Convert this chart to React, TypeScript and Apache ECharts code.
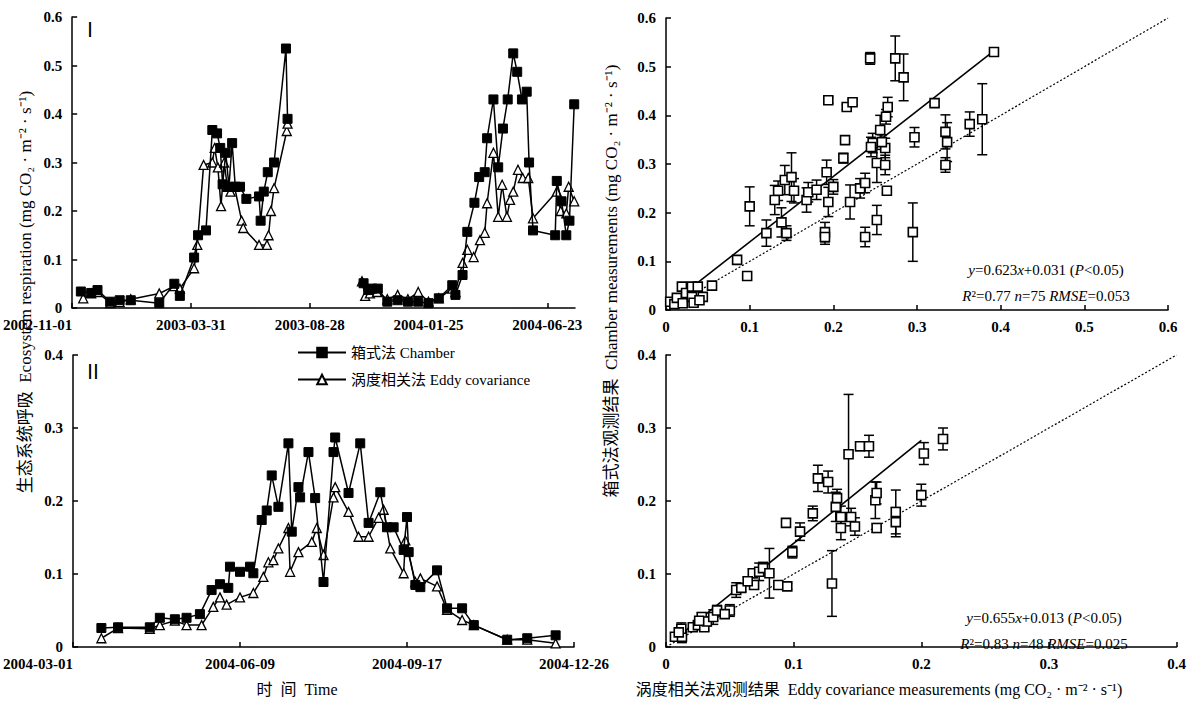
import React, { useEffect, useRef } from "react";
import * as echarts from "echarts";

const FONT = "'Times New Roman', 'Liberation Serif', 'Noto Sans CJK SC', serif";

// Panel I: days since 2002-11-01, [day, value]
const tlChamber1 = [[11,0.034],[24,0.031],[32,0.037],[48,0.013],[60,0.016],[74,0.016],[110,0.010],[129,0.050],[136,0.025],[154,0.104],[159,0.150],[169,0.160],[177,0.367],[183,0.360],[187,0.330],[190,0.255],[194,0.320],[198,0.250],[202,0.340],[206,0.250],[212,0.250],[220,0.225],[236,0.230],[238,0.180],[242,0.240],[247,0.280],[255,0.300],[270,0.535],[272,0.390]];
const tlEddy1 = [[14,0.020],[24,0.030],[32,0.033],[48,0.010],[60,0.012],[74,0.018],[110,0.030],[129,0.045],[136,0.040],[154,0.082],[158,0.130],[166,0.295],[177,0.300],[180,0.330],[184,0.290],[188,0.210],[192,0.300],[196,0.250],[200,0.240],[205,0.250],[214,0.180],[216,0.165],[236,0.130],[246,0.130],[248,0.150],[251,0.200],[255,0.247],[271,0.365],[272,0.380]];
const tlChamber2 = [[368,0.051],[374,0.037],[379,0.040],[386,0.040],[398,0.013],[411,0.016],[424,0.013],[437,0.013],[450,0.010],[463,0.020],[480,0.047],[484,0.027],[493,0.068],[499,0.157],[508,0.217],[514,0.270],[521,0.280],[524,0.350],[532,0.430],[538,0.290],[544,0.370],[550,0.430],[557,0.525],[562,0.487],[568,0.430],[574,0.446],[577,0.300],[582,0.160],[610,0.150],[612,0.262],[618,0.220],[624,0.150],[628,0.180],[634,0.420]];
const tlEddy2 = [[366,0.055],[370,0.025],[376,0.030],[385,0.033],[398,0.018],[411,0.027],[424,0.018],[437,0.033],[450,0.013],[463,0.020],[480,0.040],[484,0.033],[493,0.093],[499,0.120],[507,0.105],[515,0.140],[521,0.155],[524,0.216],[532,0.320],[538,0.188],[543,0.254],[549,0.188],[553,0.223],[557,0.240],[563,0.285],[569,0.268],[576,0.268],[582,0.185],[612,0.240],[617,0.200],[624,0.195],[627,0.250],[634,0.220]];

// Panel II: days since 2004-03-01
const blChamber = [[17,0.026],[27,0.027],[46,0.027],[52,0.040],[61,0.038],[68,0.040],[76,0.045],[83,0.078],[88,0.086],[93,0.081],[94,0.110],[100,0.103],[106,0.110],[108,0.101],[113,0.174],[116,0.187],[119,0.235],[123,0.192],[129,0.279],[131,0.158],[135,0.219],[136,0.205],[141,0.267],[145,0.204],[150,0.089],[156,0.267],[157,0.287],[165,0.211],[172,0.279],[177,0.170],[184,0.212],[188,0.164],[192,0.164],[198,0.133],[200,0.178],[201,0.130],[205,0.085],[208,0.082],[218,0.105],[224,0.053],[233,0.053],[240,0.030],[260,0.010],[272,0.012],[289,0.016]];
const blEddy = [[17,0.012],[27,0.026],[46,0.025],[52,0.030],[61,0.036],[68,0.030],[77,0.030],[84,0.055],[88,0.068],[92,0.058],[100,0.068],[108,0.074],[114,0.096],[117,0.116],[120,0.119],[123,0.135],[129,0.163],[130,0.103],[135,0.130],[143,0.144],[146,0.163],[150,0.126],[156,0.205],[157,0.219],[165,0.185],[171,0.151],[177,0.151],[183,0.177],[186,0.188],[190,0.135],[198,0.101],[199,0.146],[205,0.089],[208,0.094],[218,0.083],[224,0.051],[233,0.037],[240,0.030],[260,0.010],[272,0.010],[289,0.005]];

// Scatter, 2002-2004: eddy (x), chamber (y), error half-range
const trX = [0.005,0.010,0.013,0.019,0.020,0.024,0.031,0.031,0.033,0.038,0.044,0.040,0.055,0.085,0.097,0.100,0.120,0.130,0.134,0.138,0.144,0.142,0.150,0.153,0.168,0.170,0.190,0.190,0.192,0.194,0.194,0.200,0.212,0.214,0.216,0.220,0.223,0.232,0.238,0.238,0.244,0.247,0.252,0.252,0.256,0.262,0.262,0.263,0.264,0.265,0.274,0.284,0.295,0.297,0.321,0.334,0.336,0.334,0.363,0.378,0.392,0.245,0.258,0.180];
const trY = [0.017,0.012,0.025,0.048,0.014,0.035,0.048,0.027,0.015,0.048,0.027,0.020,0.050,0.103,0.070,0.213,0.158,0.226,0.245,0.180,0.158,0.267,0.273,0.245,0.226,0.242,0.160,0.150,0.283,0.222,0.431,0.253,0.312,0.349,0.417,0.222,0.427,0.250,0.261,0.150,0.517,0.343,0.302,0.185,0.370,0.333,0.298,0.397,0.245,0.417,0.517,0.478,0.160,0.355,0.425,0.366,0.345,0.298,0.382,0.392,0.530,0.335,0.345,0.247];
const trErr = [0,0,0.005,0.006,0,0,0,0,0,0,0,0,0,0,0,0.040,0.027,0.030,0.020,0.030,0.015,0.030,0.050,0.025,0.025,0.020,0.020,0.015,0.025,0.030,0.006,0.015,0.010,0.008,0.005,0.035,0.006,0.020,0.020,0.020,0.012,0.020,0.040,0.030,0.030,0.020,0.020,0.015,0.005,0.020,0.046,0.048,0.060,0.020,0.005,0.035,0.040,0.015,0.025,0.073,0.004,0.020,0.015,0.020];
const trFit = [[0.005,0.012],[0.39,0.53]];
const trOne = [[0,0],[0.6,0.6]];

// Scatter, 2004
const brX = [0.007,0.0125,0.012,0.021,0.025,0.028,0.030,0.032,0.037,0.040,0.050,0.055,0.059,0.068,0.069,0.073,0.076,0.081,0.088,0.095,0.094,0.099,0.105,0.115,0.119,0.127,0.130,0.133,0.134,0.137,0.137,0.143,0.145,0.148,0.152,0.159,0.164,0.165,0.165,0.180,0.180,0.200,0.202,0.217,0.010,0.046,0.064,0.026];
const brY = [0.014,0.014,0.025,0.027,0.030,0.041,0.027,0.035,0.041,0.050,0.050,0.078,0.081,0.101,0.085,0.103,0.108,0.101,0.085,0.083,0.170,0.130,0.158,0.183,0.231,0.226,0.087,0.192,0.204,0.178,0.163,0.264,0.178,0.165,0.275,0.275,0.201,0.211,0.163,0.185,0.171,0.208,0.265,0.285,0.020,0.045,0.090,0.036];
const brErr = [0.005,0.008,0.008,0,0.005,0.006,0.005,0.006,0.010,0.007,0.008,0.010,0.005,0.006,0,0.012,0.008,0.034,0.004,0.004,0.005,0.008,0.012,0.010,0.018,0.015,0.045,0.020,0.012,0.015,0.016,0.082,0.012,0.012,0.006,0.015,0.025,0.015,0.006,0.030,0.020,0.015,0.015,0.015,0,0,0.006,0];
const brFit = [[0.005,0.008],[0.2,0.283]];
const brOne = [[0,0],[0.4,0.4]];

const START1 = Date.UTC(2002, 10, 1);
const START2 = Date.UTC(2004, 2, 1);
const pad = (n: number) => (n < 10 ? "0" + n : "" + n);
const dateFmt = (start: number) => (v: number) => {
  const d = new Date(start + Math.round(v) * 86400000);
  return d.getUTCFullYear() + "-" + pad(d.getUTCMonth() + 1) + "-" + pad(d.getUTCDate());
};

const labelStyle = { color: "#000", fontFamily: FONT, fontWeight: "bold", fontSize: 15 };

function axis(gridIndex: number, min: number, max: number, interval: number, isX: boolean, extra: any = {}) {
  return {
    type: "value",
    gridIndex,
    min,
    max,
    interval,
    axisLine: { show: true, onZero: false, lineStyle: { color: "#000", width: 1.5 } },
    axisTick: { show: true, inside: true, length: 5, lineStyle: { color: "#000", width: 1.5 } },
    splitLine: { show: false },
    axisLabel: { ...labelStyle, margin: isX ? 9 : 10, ...(extra.axisLabel || {}) },
  };
}

function errData(xs: number[], ys: number[], es: number[]) {
  const out: number[][] = [];
  xs.forEach((x, i) => {
    if (es[i] > 0) out.push([x, ys[i] - es[i], ys[i] + es[i]]);
  });
  return out;
}

const renderErr = (params: any, api: any) => {
  const x = api.value(0);
  const lo = api.coord([x, api.value(1)]);
  const hi = api.coord([x, api.value(2)]);
  const w = 5;
  const style = { stroke: "#000", lineWidth: 1.5 };
  return {
    type: "group",
    children: [
      { type: "line", shape: { x1: lo[0], y1: lo[1], x2: hi[0], y2: hi[1] }, style },
      { type: "line", shape: { x1: hi[0] - w, y1: hi[1], x2: hi[0] + w, y2: hi[1] }, style },
      { type: "line", shape: { x1: lo[0] - w, y1: lo[1], x2: lo[0] + w, y2: lo[1] }, style },
    ],
  };
};

const chamberLine = (name: string, data: number[][], xi: number) => ({
  name,
  type: "line",
  xAxisIndex: xi,
  yAxisIndex: xi,
  data,
  symbol: "rect",
  symbolSize: 9,
  lineStyle: { color: "#000", width: 1.5 },
  itemStyle: { color: "#000", borderColor: "#000", borderWidth: 1 },
  z: 3,
});
const eddyLine = (name: string, data: number[][], xi: number) => ({
  name,
  type: "line",
  xAxisIndex: xi,
  yAxisIndex: xi,
  data,
  symbol: "triangle",
  symbolSize: 9,
  lineStyle: { color: "#000", width: 1.5 },
  itemStyle: { color: "#fff", borderColor: "#000", borderWidth: 1.3 },
  z: 2,
});

const scatterSeries = (xs: number[], ys: number[], xi: number) => ({
  type: "scatter",
  xAxisIndex: xi,
  yAxisIndex: xi,
  data: xs.map((x, i) => [x, ys[i]]),
  symbol: "rect",
  symbolSize: 9,
  itemStyle: { color: "#fff", borderColor: "#000", borderWidth: 1.6, opacity: 1 },
  z: 5,
});
const errSeries = (xs: number[], ys: number[], es: number[], xi: number) => ({
  type: "custom",
  xAxisIndex: xi,
  yAxisIndex: xi,
  data: errData(xs, ys, es),
  encode: { x: 0, y: [1, 2] },
  renderItem: renderErr,
  z: 4,
});
const fitSeries = (data: number[][], xi: number, dotted: boolean) => ({
  type: "line",
  xAxisIndex: xi,
  yAxisIndex: xi,
  data,
  symbol: "none",
  lineStyle: { color: "#000", width: dotted ? 1.2 : 1.6, type: dotted ? [2, 2] : "solid" },
  z: dotted ? 1 : 3,
});

const eqText = (x: number, y: number, line1: string, line2: string) => [
  {
    type: "text",
    x,
    y,
    style: {
      text: line1,
      align: "center",
      verticalAlign: "middle",
      fontFamily: FONT,
      fontSize: 15,
      fill: "#000",
      rich: { i: { fontStyle: "italic", fontFamily: FONT, fontSize: 15 } },
    },
  },
  {
    type: "text",
    x,
    y: y + 26,
    style: {
      text: line2,
      align: "center",
      verticalAlign: "middle",
      fontFamily: FONT,
      fontSize: 15,
      fill: "#000",
      rich: { i: { fontStyle: "italic", fontFamily: FONT, fontSize: 15 } },
    },
  },
];

export default function App() {
  const ref = useRef<HTMLDivElement>(null);
  useEffect(() => {
    const chart = echarts.init(ref.current!, null, { renderer: "svg" });
    const option: any = {
      animation: false,
      backgroundColor: "#fff",
      grid: [
        { left: 71, top: 17, width: 504, height: 291 },
        { left: 71, top: 355, width: 503, height: 292 },
        { left: 666, top: 18, width: 502, height: 292 },
        { left: 666, top: 355, width: 512, height: 292 },
      ],
      xAxis: [
        axis(0, 0, 635, 150, true, { axisLabel: { formatter: dateFmt(START1), alignMinLabel: "right", showMaxLabel: false } }),
        axis(1, 0, 300, 100, true, { axisLabel: { formatter: dateFmt(START2), alignMinLabel: "right" } }),
        axis(2, 0, 0.6, 0.1, true),
        axis(3, 0, 0.4, 0.1, true),
      ],
      yAxis: [
        axis(0, 0, 0.6, 0.1, false),
        axis(1, 0, 0.4, 0.1, false),
        axis(2, 0, 0.6, 0.1, false),
        axis(3, 0, 0.4, 0.1, false),
      ],
      legend: {
        left: 292,
        top: 340,
        orient: "vertical",
        itemWidth: 48,
        itemHeight: 12,
        itemGap: 12,
        textStyle: { color: "#000", fontFamily: FONT, fontSize: 15 },
        data: ["箱式法 Chamber", "涡度相关法 Eddy covariance"],
      },
      series: [
        chamberLine("c1", tlChamber1, 0),
        chamberLine("c2", tlChamber2, 0),
        eddyLine("e1", tlEddy1, 0),
        eddyLine("e2", tlEddy2, 0),
        chamberLine("箱式法 Chamber", blChamber, 1),
        eddyLine("涡度相关法 Eddy covariance", blEddy, 1),
        fitSeries(trOne, 2, true),
        fitSeries(trFit, 2, false),
        errSeries(trX, trY, trErr, 2),
        scatterSeries(trX, trY, 2),
        fitSeries(brOne, 3, true),
        fitSeries(brFit, 3, false),
        errSeries(brX, brY, brErr, 3),
        scatterSeries(brX, brY, 3),
      ],
      graphic: [
        { type: "text", x: 90, y: 30, style: { text: "Ⅰ", align: "center", verticalAlign: "middle", fontFamily: FONT, fontSize: 20, fill: "#000" } },
        { type: "text", x: 93, y: 372, style: { text: "Ⅱ", align: "center", verticalAlign: "middle", fontFamily: FONT, fontSize: 20, fill: "#000" } },
        {
          type: "text", x: 25, y: 292, rotation: Math.PI / 2,
          style: { text: "生态系统呼吸  Ecosystem respiration (mg CO₂ · m⁻² · s⁻¹)", align: "center", verticalAlign: "middle", fontFamily: FONT, fontSize: 17, fill: "#000" },
        },
        {
          type: "text", x: 611, y: 281, rotation: Math.PI / 2,
          style: { text: "箱式法观测结果  Chamber measurements (mg CO₂ · m⁻² · s⁻¹)", align: "center", verticalAlign: "middle", fontFamily: FONT, fontSize: 17, fill: "#000" },
        },
        {
          type: "text", x: 297, y: 689,
          style: { text: "时  间  Time", align: "center", verticalAlign: "middle", fontFamily: FONT, fontSize: 16, fill: "#000" },
        },
        {
          type: "text", x: 879, y: 689,
          style: { text: "涡度相关法观测结果  Eddy covariance measurements (mg CO₂ · m⁻² · s⁻¹)", align: "center", verticalAlign: "middle", fontFamily: FONT, fontSize: 16, fill: "#000" },
        },
        ...eqText(1046, 270, "{i|y}=0.623{i|x}+0.031 ({i|P}<0.05)", "{i|R}²=0.77 {i|n}=75 {i|RMSE}=0.053"),
        ...eqText(1044, 618, "{i|y}=0.655{i|x}+0.013 ({i|P}<0.05)", "{i|R}²=0.83 {i|n}=48 {i|RMSE}=0.025"),
      ],
    };
    chart.setOption(option);
    return () => chart.dispose();
  }, []);
  return (
    <div
      ref={ref}
      style={{ position: "absolute", left: 0, top: 0, width: 1189, height: 703, background: "#fff" }}
    />
  );
}
